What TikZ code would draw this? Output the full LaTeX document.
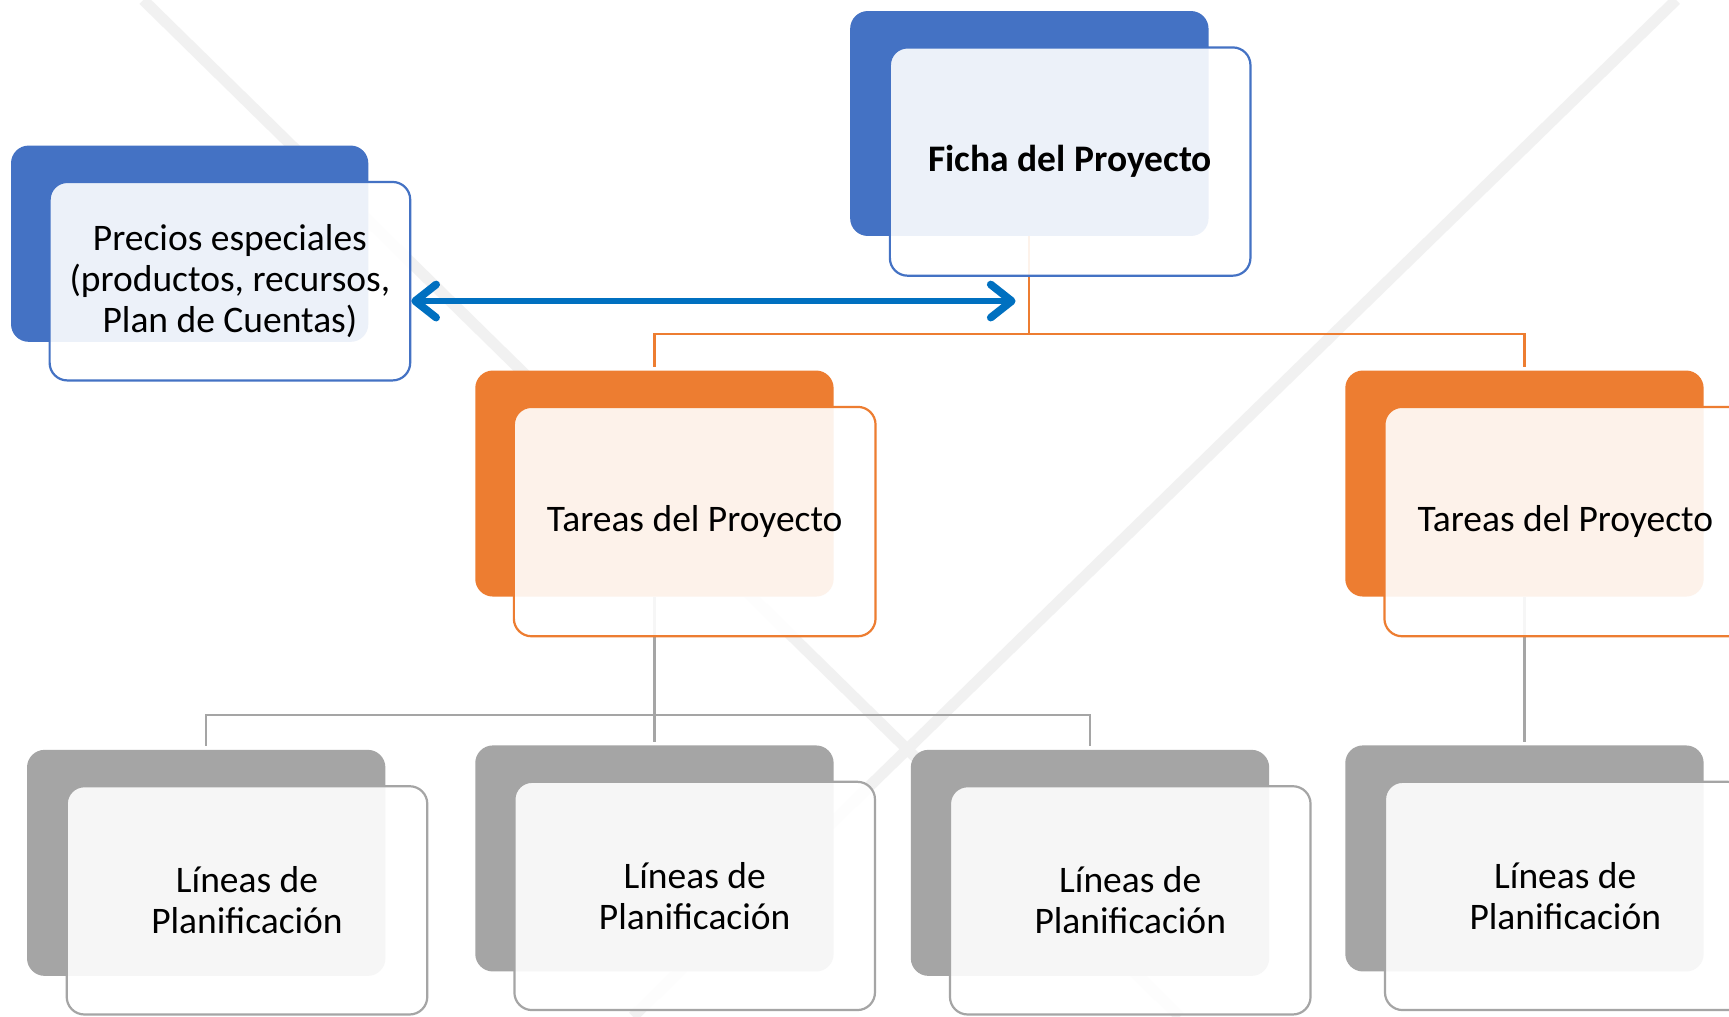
\documentclass[tikz,border=0pt]{standalone}
\usepackage{fontspec}
\setmainfont{Carlito}
\usetikzlibrary{arrows.meta}
\pgfdeclarelayer{back}
\pgfdeclarelayer{conn}
\pgfsetlayers{back,conn,main}
\definecolor{cBlue}{HTML}{4472C4}
\definecolor{cOrange}{HTML}{ED7D31}
\definecolor{cGrey}{HTML}{A5A5A5}
\definecolor{cArrow}{HTML}{0070C0}
\definecolor{cBg}{HTML}{F1F1F1}
\begin{document}
\begin{tikzpicture}[x=1pt,y=-1pt,
  darkbox/.style={draw=none, fill=#1, rounded corners=16pt, minimum width=325pt, minimum height=205pt, inner sep=0pt},
  innerbox/.style={draw=#1, line width=2pt, fill=white, fill opacity=0.9, text opacity=1, rounded corners=16pt, minimum width=327pt, minimum height=207pt, inner sep=0pt, align=center, font=\fontsize{34}{37}\selectfont},
  connline/.style={line width=2pt, draw=#1},
  bgline/.style={line width=10pt, draw=cBg},
  arrowline/.style={line width=5pt, draw=cArrow, {Straight Barb[length=19pt,width=30pt,line width=7pt,round]}-{Straight Barb[length=19pt,width=30pt,line width=7pt,round]}}]
\useasboundingbox (0,0) rectangle (1568,922);
\clip (0,0) rectangle (1568,922);
\begin{pgfonlayer}{back}
\fill[white] (0,0) rectangle (1568,922);
\draw[bgline] (130,0) -- (1070,922);
\draw[bgline] (1520,0) -- (574,922);
\end{pgfonlayer}
% Precios
\node[darkbox=cBlue, minimum width=324pt, minimum height=178pt] (precD) at (172,221) {};
\node[innerbox=cBlue, minimum height=180pt] (precI) at (208.5,255) {Precios especiales\\(productos, recursos,\\Plan de Cuentas)};
% Ficha
\node[darkbox=cBlue, minimum height=204pt] (fichaD) at (933.5,112) {};
\node[innerbox=cBlue] (fichaI) at (970.5,146.5) {\bfseries Ficha del Proyecto};
% Tareas
\node[darkbox=cOrange] (tar1D) at (593.5,438.5) {};
\node[innerbox=cOrange, minimum width=328pt, minimum height=208pt] (tar1I) at (630,473) {Tareas del Proyecto};
\node[darkbox=cOrange] (tar2D) at (1382.5,438.5) {};
\node[innerbox=cOrange, minimum width=328pt, minimum height=208pt] (tar2I) at (1419.5,473) {Tareas del Proyecto};
% Lineas
\node[darkbox=cGrey] (lin1D) at (187,782.5) {};
\node[innerbox=cGrey] (lin1I) at (224,816.5) {Líneas de\\Planificación};
\node[darkbox=cGrey] (lin2D) at (593.5,778.5) {};
\node[innerbox=cGrey] (lin2I) at (630,812.5) {Líneas de\\Planificación};
\node[darkbox=cGrey] (lin3D) at (988.5,782.5) {};
\node[innerbox=cGrey] (lin3I) at (1025,816.5) {Líneas de\\Planificación};
\node[darkbox=cGrey] (lin4D) at (1382.5,778.5) {};
\node[innerbox=cGrey] (lin4I) at (1419.5,812.5) {Líneas de\\Planificación};
% connectors
\begin{pgfonlayer}{conn}
\draw[connline=cOrange] (fichaD.south) -- ++(0,89) -| ([yshift=3pt]tar1D.north);
\draw[connline=cOrange] (fichaD.south) -- ++(0,89) -| ([yshift=3pt]tar2D.north);
\draw[connline=cGrey] (tar1D.south) -- ++(0,107) -| ([yshift=3pt]lin1D.north);
\draw[connline=cGrey] (tar1D.south) -- ([yshift=3pt]lin2D.north);
\draw[connline=cGrey] (tar1D.south) -- ++(0,107) -| ([yshift=3pt]lin3D.north);
\draw[connline=cGrey] (tar2D.south) -- ([yshift=3pt]lin4D.north);
\end{pgfonlayer}
% arrow
\coordinate (arrR) at (921,273);
\draw[arrowline] (arrR -| precI.east) -- (arrR);
\end{tikzpicture}
\end{document}
